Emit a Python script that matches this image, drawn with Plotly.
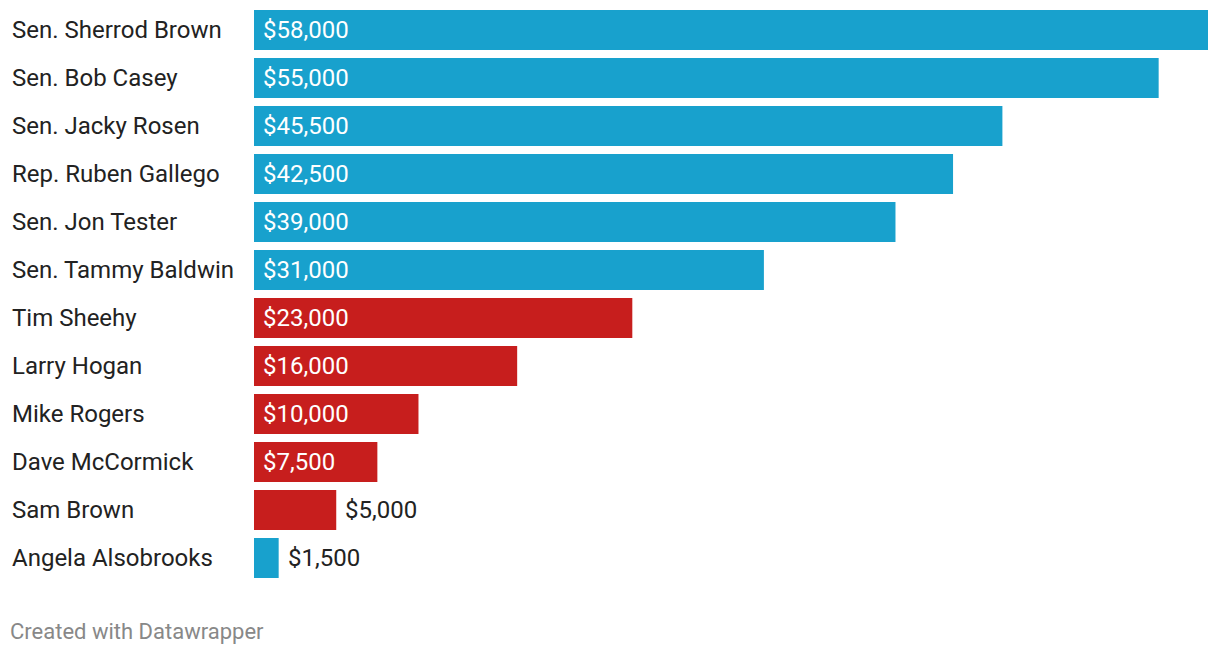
import plotly.graph_objects as go

names = ["Sen. Sherrod Brown", "Sen. Bob Casey", "Sen. Jacky Rosen", "Rep. Ruben Gallego",
         "Sen. Jon Tester", "Sen. Tammy Baldwin", "Tim Sheehy", "Larry Hogan",
         "Mike Rogers", "Dave McCormick", "Sam Brown", "Angela Alsobrooks"]
amounts = [58000, 55000, 45500, 42500, 39000, 31000, 23000, 16000, 10000, 7500, 5000, 1500]
party = ["D", "D", "D", "D", "D", "D", "R", "R", "R", "R", "R", "D"]
label_inside = [True] * 10 + [False, False]

BLUE = "#18a1cd"
RED = "#c71e1d"
colors = [BLUE if p == "D" else RED for p in party]
labels = ["${:,}".format(v) for v in amounts]

L, R, T, B = 254, 12, 6, 72
W, H = 1220, 654
pw, ph = W - L - R, H - T - B

fig = go.Figure()
fig.add_trace(go.Bar(
    x=amounts, y=names, orientation="h",
    marker=dict(color=colors, line=dict(width=0)),
    hoverinfo="skip",
))

annotations = []
for n, v, lab, inside in zip(names, amounts, labels, label_inside):
    annotations.append(dict(
        x=0 if inside else v, y=n, xref="x", yref="y",
        text=lab, showarrow=False, xanchor="left", yanchor="middle",
        xshift=8, borderpad=0,
        font=dict(family="Roboto", size=24, color="#ffffff" if inside else "#222222"),
    ))
    annotations.append(dict(
        x=(12 - L) / pw, y=n, xref="paper", yref="y",
        text=n, showarrow=False, xanchor="left", yanchor="middle",
        xshift=-1, borderpad=0,
        font=dict(family="Roboto", size=24, color="#222222"),
    ))
annotations.append(dict(
    x=(10 - L) / pw, y=(H - B - 631) / ph, xref="paper", yref="paper",
    text="Created with Datawrapper", xshift=-1, borderpad=0,
    showarrow=False, xanchor="left", yanchor="middle",
    font=dict(family="Roboto", size=22, color="#888888"),
))

fig.update_layout(
    width=W, height=H,
    margin=dict(l=L, r=R, t=T, b=B, pad=0),
    plot_bgcolor="white", paper_bgcolor="white",
    bargap=1 / 6,
    showlegend=False,
    xaxis=dict(range=[0, 58000], visible=False, fixedrange=True),
    yaxis=dict(autorange="reversed", showticklabels=False, showgrid=False,
               zeroline=False, showline=False, ticks="", fixedrange=True),
    annotations=annotations,
)
fig.write_html("out.html", config={"displayModeBar": False})
